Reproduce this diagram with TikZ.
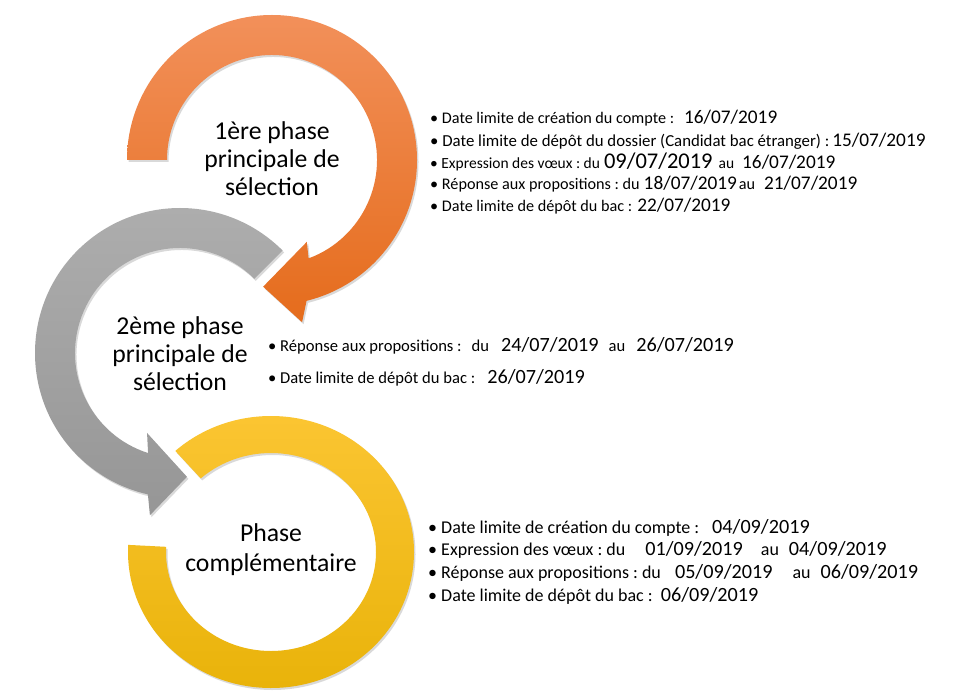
\documentclass[tikz,border=0pt]{standalone}
\usepackage{fontspec}
\setmainfont{Carlito}
\usetikzlibrary{positioning}

\definecolor{orgTop}{RGB}{242,144,90}
\definecolor{orgBot}{RGB}{229,108,28}
\definecolor{gryTop}{RGB}{174,174,174}
\definecolor{gryBot}{RGB}{150,150,150}
\definecolor{ylwTop}{RGB}{252,198,52}
\definecolor{ylwMid}{RGB}{254,194,0}
\definecolor{ylwBot}{RGB}{232,178,8}

\newcommand\dta[1]{{\fontsize{19.3}{22}\selectfont #1}}
\newcommand\dtb[1]{{\fontsize{20.2}{22}\selectfont #1}}
\newcommand\dtc[1]{{\fontsize{22.5}{24}\selectfont #1}}

\begin{document}
\frenchspacing
\begin{tikzpicture}[x=1pt, y=1pt,
  phase/.style={align=center, inner sep=0pt, font=\fontsize{25.7}{28}\selectfont},
  item/.style={anchor=base west, inner sep=0pt, font=\fontsize{16.2}{18}\selectfont},
  itemb/.style={item, font=\fontsize{18}{20}\selectfont},
  band/.style={preaction={fill=black, opacity=.15, transform canvas={shift={(1.5pt,-2pt)}}}},
]

\useasboundingbox (0,0) rectangle (960,697);
\fill[white] (0,0) rectangle (960,697);

% --- Ring 3: yellow (drawn first, lies below) ---
\begin{scope}[shift={(271,145)}]
  \shade[band, top color=ylwTop, middle color=ylwMid, bottom color=ylwBot]
    (132:143 and 136) arc[start angle=132, end angle=-183, x radius=143, y radius=136]
    -- (-183:105 and 99) arc[start angle=-183, end angle=132, x radius=105, y radius=99] -- cycle;
\end{scope}

% --- Ring 2: gray ---
\begin{scope}[shift={(180,344)}]
  \shade[band, top color=gryTop, bottom color=gryBot]
    (45:145) arc[start angle=45, end angle=257.2, radius=145]
    -- (259.5:165) -- (273.2:124) -- (247.6:86.5) -- (252.3:105)
    arc[start angle=252.3, end angle=45, radius=105] -- cycle;
\end{scope}

% --- Ring 1: orange ---
\begin{scope}[shift={(272,537)}]
  \shade[band, top color=orgTop, bottom color=orgBot]
    (180:145) arc[start angle=180, end angle=-76.2, radius=145]
    -- (-79.5:165) -- (-94:127) -- (-67:89) -- (-69.6:105)
    arc[start angle=-69.6, end angle=180, radius=105] -- cycle;
\end{scope}

% --- Phase titles ---
\node[phase] (ph1) at (272,538) {1ère phase\\principale de\\sélection};
\node[phase] (ph2) at (180,343) {2ème phase\\principale de\\sélection};
\node[phase, font=\fontsize{25.7}{30}\selectfont] (ph3) at (271,147) {Phase\\complémentaire};

% --- Dates, phase 1 ---
\node[item] (a1) at (430,573) {\textbullet~Date limite de création du compte :\hspace{10pt}\dta{16/07/2019}};
\node[item, font=\fontsize{16.8}{18}\selectfont] (a2) at (430,550) {\textbullet~Date limite de dépôt du dossier (Candidat bac étranger) :\hspace{3pt}\dta{15/07/2019}};
\node[item, font=\fontsize{15.5}{18}\selectfont] (a3) at (430,528) {\textbullet~Expression des vœux : du\hspace{4pt}\dtc{09/07/2019}\hspace{6pt}au\hspace{8pt}\dta{16/07/2019}};
\node[item] (a4) at (430,507) {\textbullet~Réponse aux propositions : du\hspace{4pt}\dta{18/07/2019}\hspace{2pt}au\hspace{9pt}\dta{21/07/2019}};
\node[item] (a5) at (430,485) {\textbullet~Date limite de dépôt du bac :\hspace{5pt}\dta{22/07/2019}};

% --- Dates, phase 2 ---
\node[item, font=\fontsize{16.6}{18}\selectfont] (b1) at (268,346) {\textbullet~Réponse aux propositions :\hspace{10pt}du\hspace{12pt}\dtb{24/07/2019}\hspace{10pt}au\hspace{11pt}\dtb{26/07/2019}};
\node[item, font=\fontsize{16.6}{18}\selectfont] (b2) at (268,314) {\textbullet~Date limite de dépôt du bac :\hspace{12pt}\dtb{26/07/2019}};

% --- Dates, phase 3 ---
\node[itemb] (c1) at (428,163.5) {\textbullet~Date limite de création du compte :\hspace{13pt}\dtb{04/09/2019}};
\node[itemb] (c2) at (428,141.5) {\textbullet~Expression des vœux : du\hspace{20pt}\dtb{01/09/2019}\hspace{18pt}au\hspace{10pt}\dtb{04/09/2019}};
\node[itemb] (c3) at (428,118.5) {\textbullet~Réponse aux propositions : du\hspace{14pt}\dtb{05/09/2019}\hspace{20pt}au\hspace{10pt}\dtb{06/09/2019}};
\node[itemb] (c4) at (428,95.5) {\textbullet~Date limite de dépôt du bac :\hspace{8pt}\dtb{06/09/2019}};

\end{tikzpicture}
\end{document}
